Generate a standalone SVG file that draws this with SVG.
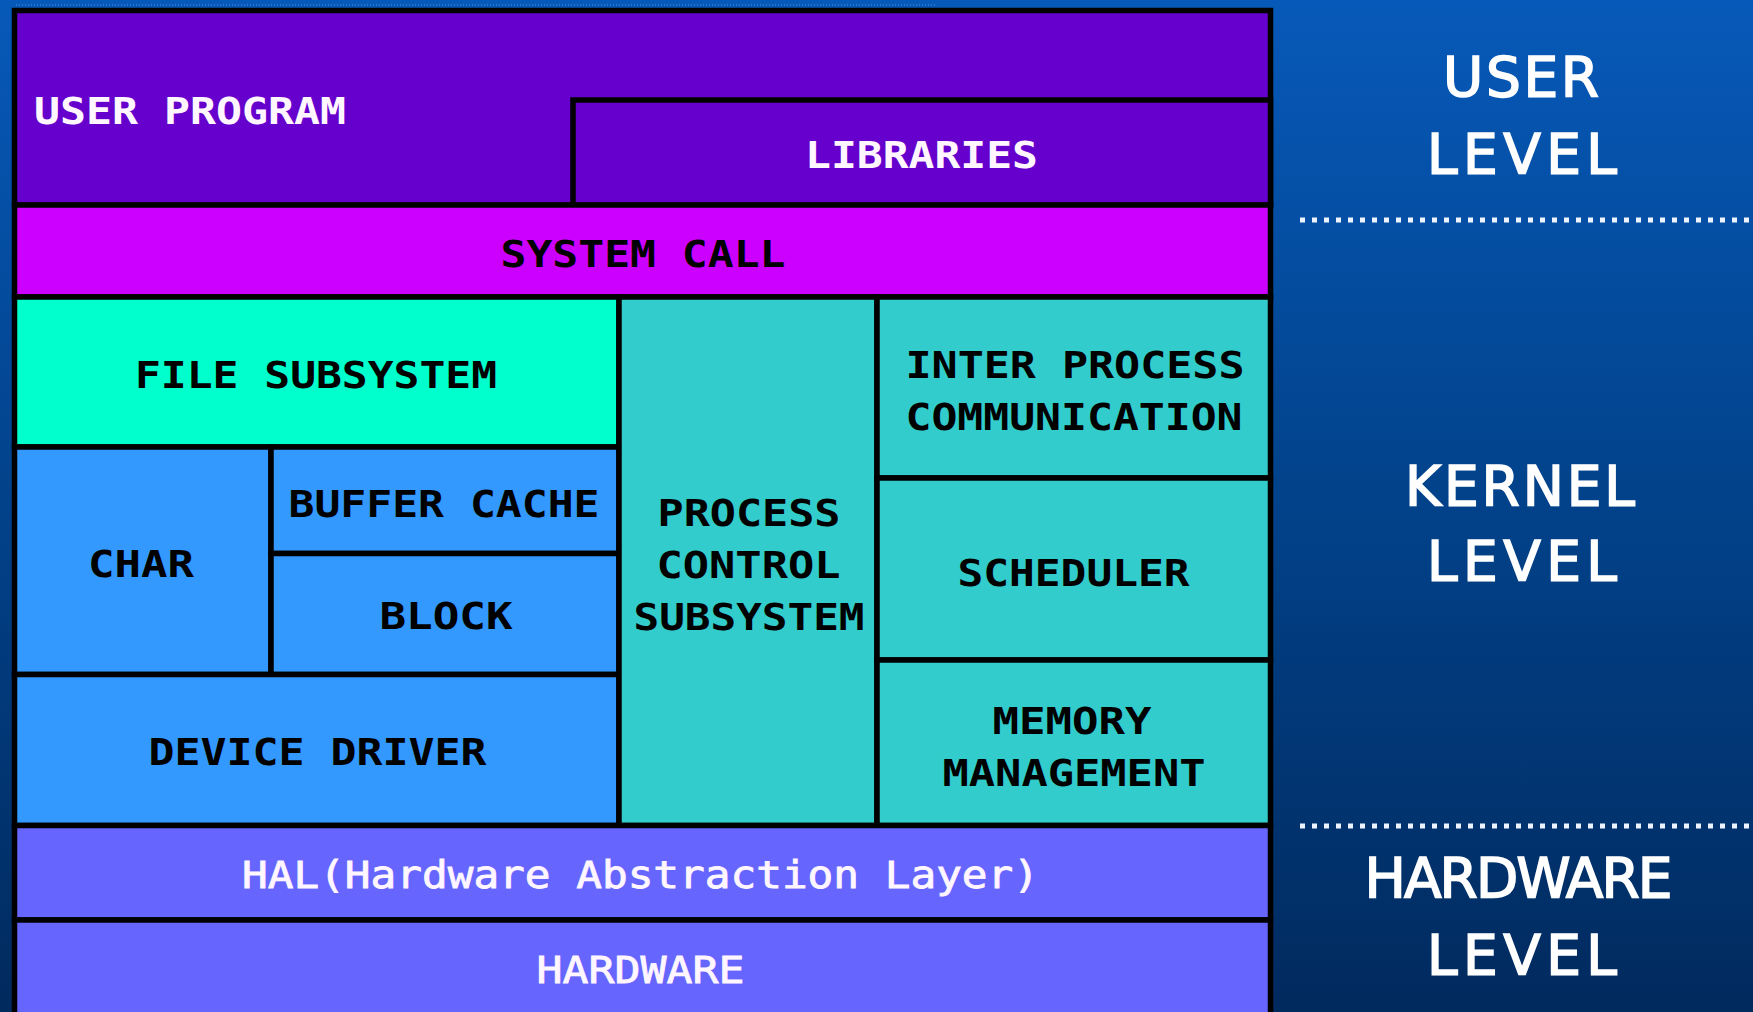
<svg xmlns="http://www.w3.org/2000/svg" width="1753" height="1012" viewBox="0 0 1753 1012">
  <defs>
    <linearGradient id="bg" x1="0" y1="0" x2="0" y2="1">
      <stop offset="0" stop-color="#0759b9"/>
      <stop offset="0.45" stop-color="#02448e"/>
      <stop offset="1" stop-color="#012a5e"/>
    </linearGradient>
    <style>
      .box { stroke: #000; stroke-width: 5.5; }
      .up { fill: #6600cc; }
      .sc { fill: #cc00ff; }
      .fs { fill: #00ffcc; }
      .dev { fill: #3399ff; }
      .proc { fill: #33cccc; }
      .hw { fill: #6666ff; }
      .lbl { font-family: "DejaVu Sans Mono", "Liberation Mono", monospace; font-size: 37px; font-weight: bold; fill: #000; text-anchor: middle; }
      .lbl.w { fill: #fff6ff; }
      .lbl.thin { font-weight: normal; stroke: #fff6ff; stroke-width: 0.8; }
      .lvl { font-family: "DejaVu Sans", "Liberation Sans", sans-serif; font-size: 55px; fill: #ffffff; stroke: #ffffff; stroke-width: 1.6; text-anchor: middle; }
      .sep { stroke: #eef4ff; stroke-width: 5; stroke-dasharray: 5 7; fill: none; }
    </style>
  </defs>

  <!-- backdrop -->
  <rect x="0" y="0" width="1753" height="1012" fill="url(#bg)"/>
  <line x1="16" y1="5" x2="935" y2="5" stroke="#5c9ae0" stroke-width="1.5" stroke-dasharray="1 2" opacity="0.6"/>

  <!-- level separators on the right -->
  <g id="connectors">
    <line class="sep" x1="1300" y1="220" x2="1753" y2="220"/>
    <line class="sep" x1="1300" y1="826" x2="1753" y2="826"/>
  </g>

  <!-- user level -->
  <g id="user-program">
    <rect class="box up" x="14.5" y="10.5" width="1256" height="194.5"/>
    <text class="lbl w" x="190" y="124" textLength="312" lengthAdjust="spacingAndGlyphs">USER PROGRAM</text>
  </g>
  <g id="libraries">
    <rect class="box up" x="573" y="100" width="697.5" height="105"/>
    <text class="lbl w" x="921.5" y="168" textLength="233" lengthAdjust="spacingAndGlyphs">LIBRARIES</text>
  </g>
  <g id="system-call">
    <rect class="box sc" x="14.5" y="205" width="1256" height="92"/>
    <text class="lbl" x="643" y="267" textLength="285" lengthAdjust="spacingAndGlyphs">SYSTEM CALL</text>
  </g>

  <!-- kernel level -->
  <g id="file-subsystem">
    <rect class="box fs" x="14.5" y="297" width="604.5" height="150"/>
    <text class="lbl" x="316" y="388" textLength="362" lengthAdjust="spacingAndGlyphs">FILE SUBSYSTEM</text>
  </g>
  <g id="char">
    <rect class="box dev" x="14.5" y="447" width="256.5" height="227.5"/>
    <text class="lbl" x="141" y="577" textLength="106" lengthAdjust="spacingAndGlyphs">CHAR</text>
  </g>
  <g id="buffer-cache">
    <rect class="box dev" x="271" y="447" width="348" height="106.5"/>
    <text class="lbl" x="444" y="517" textLength="311" lengthAdjust="spacingAndGlyphs">BUFFER CACHE</text>
  </g>
  <g id="block">
    <rect class="box dev" x="271" y="553.5" width="348" height="121"/>
    <text class="lbl" x="446" y="629" textLength="133" lengthAdjust="spacingAndGlyphs">BLOCK</text>
  </g>
  <g id="device-driver">
    <rect class="box dev" x="14.5" y="674.5" width="604.5" height="151"/>
    <text class="lbl" x="317.5" y="765" textLength="338" lengthAdjust="spacingAndGlyphs">DEVICE DRIVER</text>
  </g>
  <g id="process-control-subsystem">
    <rect class="box proc" x="619" y="297" width="258" height="528.5"/>
    <text class="lbl" x="749" y="526" textLength="183" lengthAdjust="spacingAndGlyphs">PROCESS</text>
    <text class="lbl" x="748.5" y="578" textLength="184" lengthAdjust="spacingAndGlyphs">CONTROL</text>
    <text class="lbl" x="749" y="630" textLength="231" lengthAdjust="spacingAndGlyphs">SUBSYSTEM</text>
  </g>
  <g id="inter-process-communication">
    <rect class="box proc" x="877" y="297" width="393.5" height="181"/>
    <text class="lbl" x="1075" y="378" textLength="339" lengthAdjust="spacingAndGlyphs">INTER PROCESS</text>
    <text class="lbl" x="1074" y="430" textLength="337" lengthAdjust="spacingAndGlyphs">COMMUNICATION</text>
  </g>
  <g id="scheduler">
    <rect class="box proc" x="877" y="478" width="393.5" height="182"/>
    <text class="lbl" x="1073.5" y="586" textLength="232" lengthAdjust="spacingAndGlyphs">SCHEDULER</text>
  </g>
  <g id="memory-management">
    <rect class="box proc" x="877" y="660" width="393.5" height="165.5"/>
    <text class="lbl" x="1072" y="734" textLength="159" lengthAdjust="spacingAndGlyphs">MEMORY</text>
    <text class="lbl" x="1074" y="786" textLength="263" lengthAdjust="spacingAndGlyphs">MANAGEMENT</text>
  </g>

  <!-- hardware level -->
  <g id="hal">
    <rect class="box hw" x="14.5" y="825.5" width="1256" height="94.5"/>
    <text class="lbl w thin" x="640.5" y="888" textLength="797" lengthAdjust="spacingAndGlyphs">HAL(Hardware Abstraction Layer)</text>
  </g>
  <g id="hardware">
    <rect class="box hw" x="14.5" y="920" width="1256" height="110"/>
    <text class="lbl w thin" x="640.5" y="983" textLength="208" lengthAdjust="spacingAndGlyphs">HARDWARE</text>
  </g>

  <!-- level captions -->
  <g id="user-level">
    <text class="lvl" x="1521" y="96" textLength="156" lengthAdjust="spacing">USER</text>
    <text class="lvl" x="1522" y="173" textLength="190" lengthAdjust="spacing">LEVEL</text>
  </g>
  <g id="kernel-level">
    <text class="lvl" x="1520" y="505" textLength="230" lengthAdjust="spacing">KERNEL</text>
    <text class="lvl" x="1522" y="580" textLength="190" lengthAdjust="spacing">LEVEL</text>
  </g>
  <g id="hardware-level">
    <text class="lvl" x="1518.5" y="897" textLength="308" lengthAdjust="spacing">HARDWARE</text>
    <text class="lvl" x="1522" y="974" textLength="190" lengthAdjust="spacing">LEVEL</text>
  </g>
</svg>
